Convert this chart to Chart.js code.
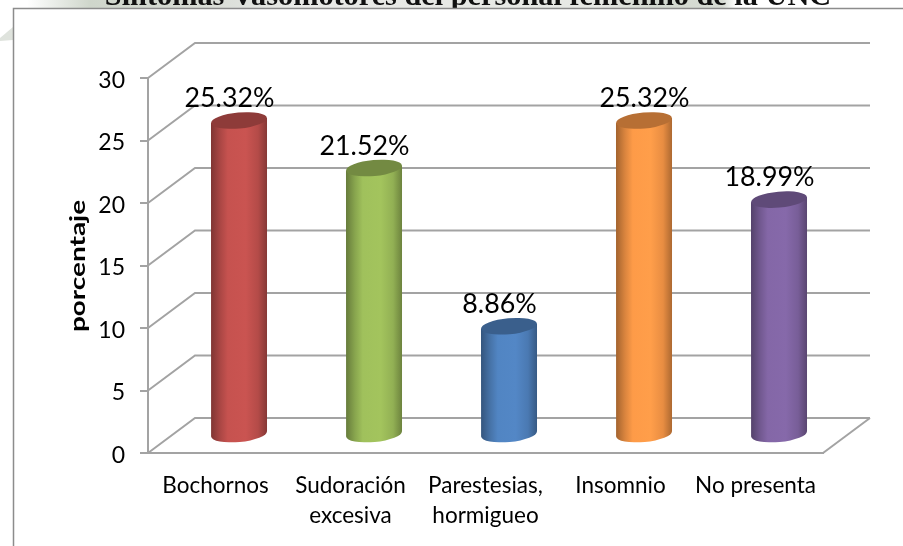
<!DOCTYPE html>
<html><head><meta charset="utf-8">
<style>html,body{margin:0;padding:0;background:#fff;overflow:hidden}canvas{display:block}</style>
<script src="https://cdn.jsdelivr.net/npm/chart.js@4"></script>
</head><body><div style="width:903px;height:546px;position:relative"><canvas id="c"></canvas></div>
<script>
const categories = [['Bochornos'], ['Sudoración','excesiva'], ['Parestesias,','hormigueo'], ['Insomnio'], ['No presenta']];
const values = [25.32, 21.52, 8.86, 25.32, 18.99];
const barColors = ['#c0504d', '#9bbb59', '#4f81bd', '#f79646', '#8064a2'];
const titleText = 'Síntomas Vasomotores del personal femenino de la UNC';
const yAxisTitle = 'porcentaje';

const FONT = 'Lato, Carlito, Calibri, sans-serif';
const GRID = '#a3a3a3';
const DX = 47, DY = -35;

function shade(hex, f) {
  const n = parseInt(hex.slice(1), 16);
  const ch = [n >> 16, (n >> 8) & 255, n & 255].map(v => Math.max(0, Math.min(255, Math.round(v * f))));
  return `rgb(${ch[0]},${ch[1]},${ch[2]})`;
}

const page = {
  id: 'page',
  beforeDraw(chart) {
    const { ctx } = chart;
    const W = chart.width;
    ctx.save();
    const g = ctx.createLinearGradient(0, 0, W, 0);
    g.addColorStop(0, '#ffffff');
    g.addColorStop(0.03, '#ffffff');
    g.addColorStop(0.1, '#cfd6cb');
    g.addColorStop(0.2, '#d5dad2');
    g.addColorStop(0.33, '#e8e9e6');
    g.addColorStop(0.66, '#e6e8e4');
    g.addColorStop(0.72, '#d3d9d0');
    g.addColorStop(0.8, '#d6dbd3');
    g.addColorStop(0.815, '#ffffff');
    g.addColorStop(1, '#ffffff');
    ctx.fillStyle = g;
    ctx.fillRect(0, 0, W, 8);
    ctx.fillStyle = '#dfe3dd';
    ctx.beginPath();
    ctx.moveTo(0, 38); ctx.lineTo(13, 27); ctx.lineTo(13, 40); ctx.lineTo(0, 41);
    ctx.closePath(); ctx.fill();
    ctx.fillStyle = '#111';
    ctx.font = 'bold 30.3px "Liberation Serif", serif';
    ctx.textAlign = 'center';
    ctx.textBaseline = 'alphabetic';
    ctx.beginPath(); ctx.rect(0, 0, W, 8); ctx.clip();
    ctx.fillText(titleText, 468, 4.5);
    ctx.restore();
    ctx.save();
    ctx.strokeStyle = '#8c8c8c';
    ctx.lineWidth = 1.5;
    ctx.beginPath();
    ctx.moveTo(13.5, 546); ctx.lineTo(13.5, 8.5); ctx.lineTo(903, 8.5);
    ctx.stroke();
    ctx.restore();
  },
  beforeDatasetsDraw(chart) {
    const { ctx, chartArea: a, scales: { y } } = chart;
    ctx.save();
    ctx.strokeStyle = GRID;
    ctx.lineWidth = 2;
    y.ticks.forEach(t => {
      const py = y.getPixelForValue(t.value);
      ctx.beginPath();
      ctx.moveTo(a.left, py);
      ctx.lineTo(a.left + DX, py + DY);
      ctx.lineTo(a.right + DX, py + DY);
      ctx.stroke();
    });
    const py0 = y.getPixelForValue(0);
    ctx.beginPath();
    ctx.moveTo(a.right, py0);
    ctx.lineTo(a.right + DX, py0 + DY);
    ctx.stroke();
    ctx.restore();
  },
  beforeDatasetDraw(chart, args) {
    const { ctx } = chart;
    const meta = chart.getDatasetMeta(args.index);
    meta.data.forEach((el) => {
      const color = el.options.backgroundColor;
      const rx = el.width / 2, ry = 8, rot = -0.09;
      const cx = el.x + DX / 2;
      const top = el.y + DY / 2 + 1.5;
      const bot = el.base + DY / 2 - 0.5;
      ctx.save();
      const g = ctx.createLinearGradient(cx - rx, 0, cx + rx, 0);
      g.addColorStop(0, shade(color, 0.66));
      g.addColorStop(0.16, shade(color, 0.88));
      g.addColorStop(0.3, shade(color, 1.03));
      g.addColorStop(0.62, shade(color, 1.05));
      g.addColorStop(0.84, shade(color, 0.94));
      g.addColorStop(1, shade(color, 0.7));
      ctx.fillStyle = g;
      const dyEdge = rx * Math.sin(-rot);
      ctx.beginPath();
      ctx.moveTo(cx - rx, top + dyEdge);
      ctx.lineTo(cx + rx, top - dyEdge);
      ctx.lineTo(cx + rx, bot - dyEdge);
      ctx.ellipse(cx, bot, rx, ry, rot, 0, Math.PI);
      ctx.closePath();
      ctx.fill();
      ctx.fillStyle = shade(color, 0.74);
      ctx.beginPath();
      ctx.ellipse(cx, top, rx, ry, rot, 0, Math.PI * 2);
      ctx.fill();
      ctx.restore();
    });
    return false;
  },
  afterDatasetsDraw(chart) {
    const { ctx, scales: { y } } = chart;
    const meta = chart.getDatasetMeta(0);
    ctx.save();
    ctx.font = '26.8px ' + FONT;
    ctx.fillStyle = '#000';
    ctx.textAlign = 'center';
    ctx.textBaseline = 'middle';
    meta.data.forEach((el, i) => {
      const nudge = i === 3 ? 24 : 14;
      ctx.fillText(values[i].toFixed(2) + '%', el.x + nudge, el.y - 38);
    });
    ctx.restore();
    ctx.save();
    ctx.translate(78, 266);
    ctx.rotate(-Math.PI / 2);
    ctx.scale(1.33, 1);
    ctx.font = 'bold 21px ' + FONT;
    ctx.fillStyle = '#000';
    ctx.textAlign = 'center';
    ctx.textBaseline = 'middle';
    ctx.fillText(y.options.title.text, 0, 0);
    ctx.restore();
  }
};

new Chart(document.getElementById('c'), {
  type: 'bar',
  data: {
    labels: categories,
    datasets: [{
      data: values,
      backgroundColor: barColors,
      borderWidth: 0,
      categoryPercentage: 1,
      barPercentage: 0.415
    }]
  },
  plugins: [page],
  options: {
    responsive: true,
    maintainAspectRatio: false,
    animation: false,
    layout: { padding: { left: 62, right: 80, top: 78, bottom: 0 } },
    plugins: { legend: { display: false }, tooltip: { enabled: false }, title: { display: false } },
    scales: {
      x: {
        grid: { display: false, drawTicks: false },
        border: { color: GRID, width: 2 },
        ticks: { color: '#000', font: { family: FONT, size: 22.5, lineHeight: 1.36 }, maxRotation: 0, autoSkip: false, padding: 17 },
        afterFit(s) { s.height = 93; }
      },
      y: {
        min: 0, max: 30,
        ticks: { stepSize: 5, color: '#000', font: { family: FONT, size: 23 }, padding: 15, labelOffset: 2.5 },
        grid: { drawOnChartArea: false, drawTicks: true, tickLength: 8, color: GRID, lineWidth: 2 },
        border: { color: GRID, width: 2 },
        title: { display: false, text: yAxisTitle },
        afterFit(s) { s.width = 86; }
      }
    }
  }
});
</script></body></html>
